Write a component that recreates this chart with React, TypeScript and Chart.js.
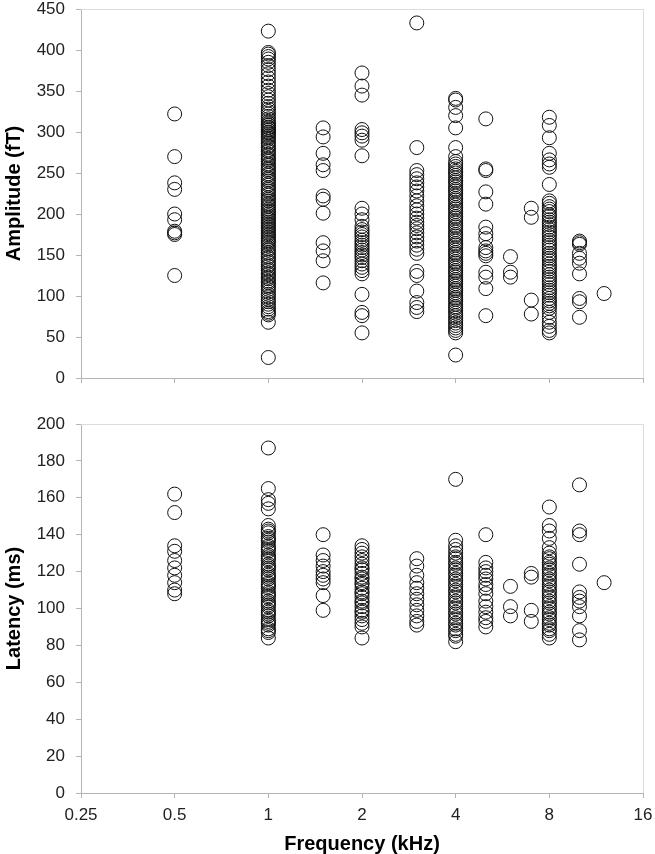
import React, { useEffect, useRef } from "react";
import { Chart, registerables } from "chart.js";

Chart.register(...registerables);

// Frequencies (kHz)
const freqs = [0.5, 1, 1.5, 2, 3, 4, 5, 6, 7, 8, 10, 12];
const xTickValues = [0.25, 0.5, 1, 2, 4, 8, 16];

// Amplitude (fT) per frequency
const amp05 = [322, 270, 238, 230, 200, 193, 179, 177, 175, 125];
const amp1 = [423, 397, 395, 392, 389, 385, 381, 376, 371, 366, 361, 356, 351, 347, 343, 339, 335, 331, 328, 325, 322, 319, 316, 313,
  311, 309, 308, 306, 305, 303, 302, 300, 299, 297, 295, 293, 291, 288, 286, 283, 281, 278, 276, 273, 271, 268, 266, 264, 261, 259,
  256, 254, 252, 249, 247, 244, 242, 240, 237, 235, 232, 230, 228, 225, 223, 220, 218, 216, 213, 211, 209, 206, 204, 202, 200, 198,
  196, 194, 192, 190, 188, 186, 184, 182, 180, 178, 176, 174, 172, 170, 168, 166, 164, 161, 158, 156, 153, 151, 148, 146, 143, 141,
  138, 136, 133, 131, 128, 126, 123, 121, 118, 116, 113, 111, 108, 105, 102, 99, 96, 93, 90, 87, 84, 81, 79, 77, 68, 25];
const amp15 = [305, 294, 274, 260, 253, 222, 218, 201, 165, 155, 143, 116];
const amp2 = [372, 356, 345, 303, 299, 295, 290, 271, 207, 200, 193, 185, 181, 178, 175, 172, 168, 165, 162, 159, 156, 153, 150, 147, 143, 139, 135, 131, 127, 102, 80, 76, 55];
const amp3 = [433, 281, 253, 248, 243, 238, 233, 228, 222, 216, 210, 205, 200, 195, 190, 186, 182, 177, 172, 167, 162, 157, 152, 130, 125, 106, 92, 86, 81];
const amp4 = [341, 339, 330, 320, 305, 281, 270, 264, 261, 258, 255, 252, 250, 247, 244, 241, 239, 236, 233, 230, 228, 225, 222, 219,
  217, 214, 211, 208, 206, 203, 200, 197, 195, 192, 189, 186, 184, 181, 178, 175, 173, 170, 167, 164, 162, 159, 156, 153, 151, 148,
  145, 142, 140, 137, 134, 131, 129, 126, 123, 120, 118, 115, 112, 109, 107, 104, 101, 98, 96, 93, 90, 87, 85, 82, 79, 76, 73, 70,
  67, 64, 61, 58, 55, 28];
const amp5 = [316, 255, 253, 227, 212, 184, 176, 170, 159, 155, 152, 149, 129, 123, 109, 76];
const amp6 = [148, 129, 123];
const amp7 = [207, 196, 95, 78];
const amp8 = [318, 308, 293, 274, 266, 261, 257, 236, 216, 213, 209, 206, 203, 199, 197, 193, 190, 187, 184, 181, 178, 175, 172, 168,
  165, 162, 159, 156, 152, 149, 146, 143, 139, 136, 133, 130, 126, 123, 120, 117, 114, 110, 107, 104, 101, 97, 94, 91, 88, 85, 80,
  74, 68, 63, 58, 55];
const amp10 = [167, 165, 163, 152, 146, 140, 127, 97, 93, 74];
const amp12 = [103];

// Latency (ms) per frequency
const lat05 = [162, 152, 134, 131, 126, 122, 118, 114, 110, 108];
const lat1 = [187, 165, 159, 157, 154, 145, 143, 142, 141, 139, 138, 137, 136, 134, 133, 132, 131, 129, 128, 127, 126, 124, 123, 122,
  121, 119, 118, 117, 116, 114, 113, 112, 111, 109, 108, 107, 106, 104, 103, 102, 101, 99, 98, 97, 96, 94, 93, 92, 91, 89, 88, 87, 84];
const lat15 = [140, 129, 126, 123, 120, 118, 116, 114, 107, 99];
const lat2 = [134, 132, 130, 128, 126, 124, 122, 121, 119, 117, 116, 114, 113, 111, 109, 108, 106, 104, 103, 101, 99, 98, 96, 94, 92, 90, 84];
const lat3 = [127, 123, 118, 114, 111, 108, 105, 102, 99, 96, 93, 91];
const lat4 = [170, 137, 134, 132, 130, 128, 127, 125, 124, 122, 121, 119, 118, 116, 115, 113, 112, 110, 109, 107, 106, 104, 103, 101,
  100, 98, 97, 95, 94, 92, 91, 89, 88, 86, 85, 82];
const lat5 = [140, 125, 122, 120, 118, 116, 113, 111, 108, 104, 101, 98, 95, 93, 90];
const lat6 = [112, 101, 96];
const lat7 = [119, 117, 99, 93];
const lat8 = [155, 145, 142, 138, 133, 130, 128, 127, 125, 124, 122, 121, 119, 118, 116, 115, 113, 112, 110, 109, 107, 106, 104, 103,
  101, 100, 98, 97, 95, 94, 92, 91, 89, 88, 86, 84];
const lat10 = [167, 142, 140, 124, 109, 106, 104, 101, 96, 88, 83];
const lat12 = [114];

const ampByFreq = [amp05, amp1, amp15, amp2, amp3, amp4, amp5, amp6, amp7, amp8, amp10, amp12];
const latByFreq = [lat05, lat1, lat15, lat2, lat3, lat4, lat5, lat6, lat7, lat8, lat10, lat12];

const FONT = "'Liberation Sans', Arial, sans-serif";
const AXIS_COLOR = "#b4b4b4";
const FRAME_COLOR = "#dcdcdc";

function toPoints(groups: number[][]) {
  const pts: { x: number; y: number }[] = [];
  groups.forEach((vals, i) => vals.forEach((v) => pts.push({ x: freqs[i], y: v })));
  return pts;
}

const frameBorder = {
  id: "frameBorder",
  beforeDatasetsDraw(chart: any) {
    const { ctx, chartArea } = chart;
    const { left, top, right, bottom } = chartArea;
    ctx.save();
    ctx.strokeStyle = FRAME_COLOR;
    ctx.lineWidth = 1;
    ctx.beginPath();
    ctx.moveTo(left, Math.round(top) + 0.5);
    ctx.lineTo(Math.round(right) + 0.5, Math.round(top) + 0.5);
    ctx.lineTo(Math.round(right) + 0.5, bottom);
    ctx.stroke();
    ctx.restore();
  },
};

function makeConfig(opts: {
  groups: number[][];
  yMax: number;
  yStep: number;
  yTitle: string;
  showX: boolean;
  xHeight: number;
  padTop: number;
}): any {
  return {
    type: "scatter",
    data: {
      datasets: [
        {
          data: toPoints(opts.groups),
          pointStyle: "circle",
          pointRadius: 7,
          pointHoverRadius: 7,
          borderWidth: 1,
          borderColor: "#111",
          backgroundColor: "rgba(0,0,0,0)",
        },
      ],
    },
    options: {
      responsive: false,
      animation: false,
      events: [],
      layout: { padding: { left: 0, right: 12, top: opts.padTop, bottom: 0 } },
      plugins: { legend: { display: false }, tooltip: { enabled: false } },
      scales: {
        x: {
          type: "logarithmic",
          min: 0.25,
          max: 16,
          afterBuildTicks: (s: any) => {
            s.ticks = xTickValues.map((v) => ({ value: v }));
          },
          afterFit: (s: any) => {
            s.height = opts.xHeight;
            s.paddingLeft = 0;
            s.paddingRight = 0;
          },
          grid: {
            display: true,
            drawOnChartArea: false,
            drawTicks: true,
            tickLength: 5,
            color: AXIS_COLOR,
          },
          border: { display: true, color: AXIS_COLOR, width: 1 },
          ticks: {
            display: opts.showX,
            autoSkip: false,
            maxRotation: 0,
            padding: 7,
            color: "#222",
            font: { family: FONT, size: 17 },
            callback: (v: any) => String(v),
          },
          title: {
            display: opts.showX,
            text: "Frequency (kHz)",
            color: "#000",
            font: { family: FONT, size: 20, weight: "bold", lineHeight: 1 },
            padding: { top: 0, bottom: 0 },
          },
        },
        y: {
          type: "linear",
          min: 0,
          max: opts.yMax,
          afterFit: (s: any) => {
            s.width = 81;
            s.paddingTop = 0;
            s.paddingBottom = 0;
          },
          grid: {
            display: true,
            drawOnChartArea: false,
            drawTicks: true,
            tickLength: 5,
            color: AXIS_COLOR,
          },
          border: { display: true, color: AXIS_COLOR, width: 1 },
          ticks: {
            stepSize: opts.yStep,
            padding: 11,
            color: "#222",
            font: { family: FONT, size: 17 },
          },
          title: {
            display: true,
            text: opts.yTitle,
            color: "#000",
            font: { family: FONT, size: 20, weight: "bold" },
            padding: { top: 2, bottom: 0 },
          },
        },
      },
    },
    plugins: [frameBorder],
  };
}

export default function App() {
  const topRef = useRef<HTMLCanvasElement>(null);
  const botRef = useRef<HTMLCanvasElement>(null);

  useEffect(() => {
    document.body.style.margin = "0";
    const c1 = new Chart(
      topRef.current as HTMLCanvasElement,
      makeConfig({ groups: ampByFreq, yMax: 450, yStep: 50, yTitle: "Amplitude (fT)", showX: false, xHeight: 22, padTop: 9 })
    );
    const c2 = new Chart(
      botRef.current as HTMLCanvasElement,
      makeConfig({ groups: latByFreq, yMax: 200, yStep: 20, yTitle: "Latency (ms)", showX: true, xHeight: 61, padTop: 24 })
    );
    return () => {
      c1.destroy();
      c2.destroy();
    };
  }, []);

  return (
    <div style={{ width: 655, height: 854, background: "#fff" }}>
      <canvas ref={topRef} width={655} height={400} style={{ display: "block" }} />
      <canvas ref={botRef} width={655} height={454} style={{ display: "block" }} />
    </div>
  );
}
